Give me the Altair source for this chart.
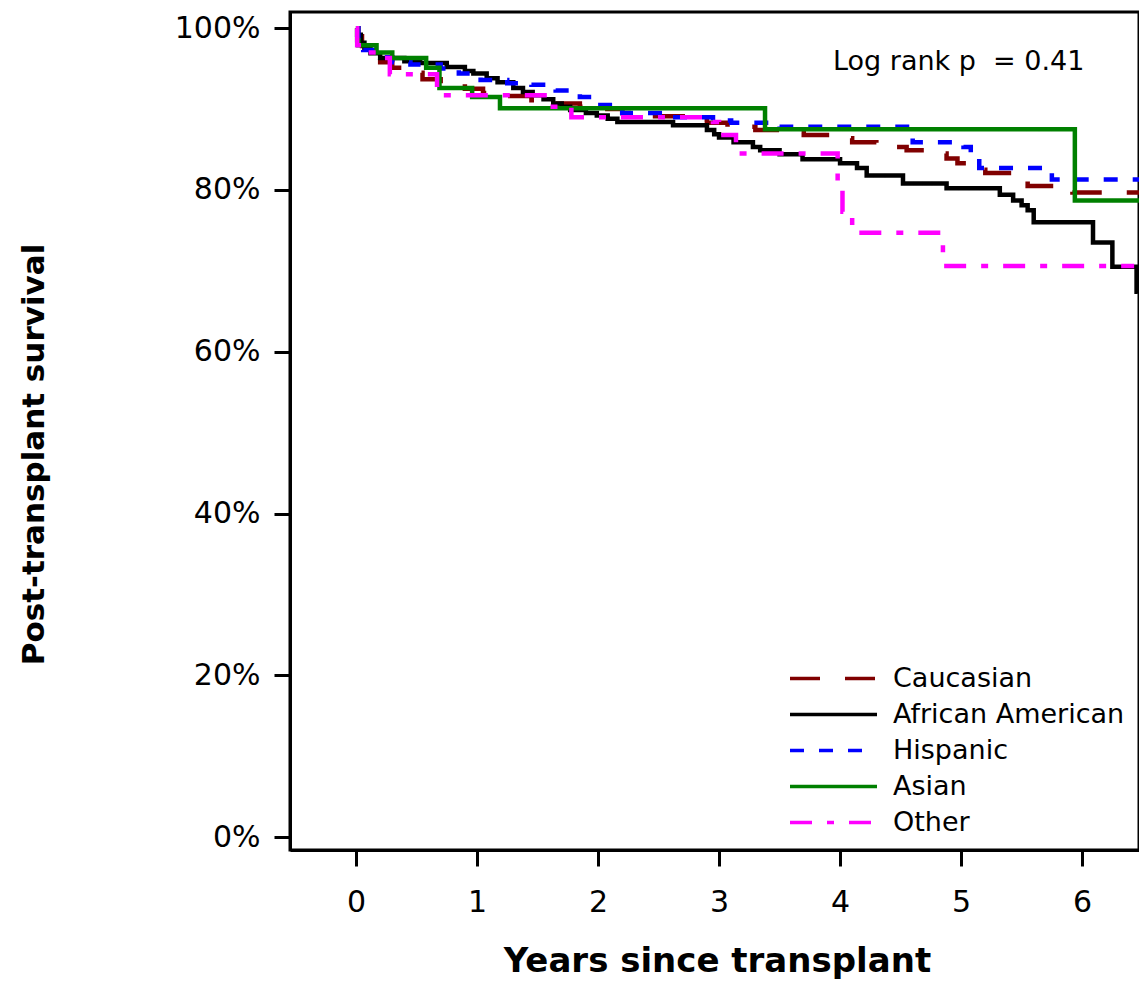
import altair as alt
import pandas as pd

# ---------------- data ----------------
groups = ["Caucasian", "African American", "Hispanic", "Asian", "Other"]
colors = ["#800000", "#000000", "#0000FF", "#008000", "#FF00FF"]
dashes = [[30, 25], [1, 0], [14, 15], [1, 0], [22, 15, 7, 15]]

cau_t = [0, 0.02, 0.05, 0.1, 0.2, 0.3, 0.4, 0.55, 0.7, 0.9, 1.05, 1.25, 1.45, 1.65,
         1.85, 2.0, 2.2, 2.45, 2.7, 2.9, 3.07, 3.3, 3.5, 3.7, 3.94, 4.1, 4.3, 4.55,
         4.8, 4.88, 4.97, 5.1, 5.2, 5.45, 5.55, 5.92, 6.55]
cau_s = [100, 99.0, 97.8, 96.8, 95.8, 95.1, 94.5, 93.7, 93.2, 92.5, 92.0, 91.6, 91.1, 90.7,
         90.3, 90.0, 89.5, 89.1, 88.7, 88.3, 87.8, 87.4, 87.1, 86.8, 86.4, 85.9, 85.3, 84.9,
         84.5, 83.9, 83.3, 82.5, 82.1, 81.3, 80.5, 79.7, 79.7]

aa_t = [0, 0.01, 0.04, 0.07, 0.12, 0.2, 0.4, 0.53, 0.75, 0.9, 0.97, 1.08, 1.17, 1.3,
        1.38, 1.46, 1.55, 1.63, 1.7, 1.77, 1.9, 1.99, 2.08, 2.16, 2.62, 2.9, 2.96, 3.0,
        3.12, 3.28, 3.34, 3.5, 3.69, 4.0, 4.14, 4.22, 4.52, 4.88, 5.32, 5.43, 5.5, 5.55,
        5.6, 6.09, 6.25, 6.45, 6.55]
aa_s = [100, 99.2, 98.2, 97.5, 96.9, 96.3, 95.9, 95.7, 95.2, 94.7, 94.4, 93.8, 93.3, 92.6,
        92.1, 91.7, 91.2, 90.7, 90.3, 89.9, 89.5, 89.2, 88.8, 88.4, 88.0, 87.4, 86.9, 86.5,
        85.9, 85.3, 84.9, 84.4, 83.8, 83.3, 82.7, 81.8, 80.8, 80.2, 79.4, 78.7, 78.1, 77.5,
        76.0, 73.5, 70.5, 67.4, 67.4]

his_t = [0, 0.02, 0.06, 0.15, 0.3, 0.45, 0.7, 0.85, 1.03, 1.25, 1.45, 1.65, 1.85, 1.98,
         2.2, 2.6, 2.95, 3.1, 3.5, 4.6, 5.02, 5.08, 5.15, 5.75, 6.55]
his_s = [100, 98.5, 97.3, 96.4, 95.8, 95.5, 95.0, 94.4, 93.6, 93.2, 93.0, 92.3, 91.5, 90.5,
         89.5, 89.0, 88.6, 88.3, 87.8, 85.9, 85.3, 84.5, 82.7, 81.3, 81.3]

asi_t = [0, 0.01, 0.02, 0.17, 0.3, 0.58, 0.69, 0.96, 1.19, 3.38, 5.94, 6.55]
asi_s = [100, 98.5, 97.9, 97.0, 96.3, 95.1, 92.6, 91.5, 90.1, 87.5, 78.7, 78.7]

oth_t = [0, 0.01, 0.1, 0.23, 0.28, 0.67, 0.72, 1.6, 1.78, 2.95, 3.0, 3.14, 3.98, 4.02,
         4.1, 4.85, 6.43]
oth_s = [100, 97.9, 97.0, 96.3, 94.3, 92.7, 91.7, 90.3, 89.0, 88.4, 86.8, 84.5, 80.3, 77.3,
         74.7, 70.6, 70.6]

x_ticks = [0, 1, 2, 3, 4, 5, 6]
y_ticks = [0, 20, 40, 60, 80, 100]

annot_text = ["Log rank p\u00a0 = 0.41"]
annot_t = [4.98]
annot_s = [94.8]

# ---------------- build table ----------------
series = [(cau_t, cau_s), (aa_t, aa_s), (his_t, his_s), (asi_t, asi_s), (oth_t, oth_s)]
rows = []
for g, (ts, ss) in zip(groups, series):
    for t, s in zip(ts, ss):
        rows.append({"group": g, "t": t, "s": s})
df = pd.DataFrame(rows)

FONT = "DejaVu Sans"

leg = alt.Legend(
    orient="none", legendX=527, legendY=650, title=None,
    symbolType="M-3,0H3", symbolSize=841, symbolStrokeWidth=3.5,
    symbolFillColor="transparent",
    labelFontSize=27, labelFont=FONT, labelColor="black", labelOffset=43,
    rowPadding=6, padding=0, labelLimit=500,
)

x_enc = alt.X(
    "t:Q",
    scale=alt.Scale(domain=[-0.545, 6.47], nice=False, zero=False),
    axis=alt.Axis(values=x_ticks, format="d", title="Years since transplant", labelPadding=21,
                  titleX=427, titleY=121, titleBaseline="alphabetic", titleAlign="center"),
)
y_enc = alt.Y(
    "s:Q",
    scale=alt.Scale(domain=[-1.6, 102], nice=False, zero=False),
    axis=alt.Axis(values=y_ticks, title="Post-transplant survival", labelPadding=14,
                  labelExpr="datum.value + '%'", titleFontSize=31,
                  titleX=-247, titleY=442, titleBaseline="alphabetic", titleAlign="center"),
)

lines = alt.Chart(df).mark_line(interpolate="step-after", strokeWidth=4.5, clip=True).encode(
    x=x_enc,
    y=y_enc,
    color=alt.Color("group:N", scale=alt.Scale(domain=groups, range=colors), legend=leg),
    strokeDash=alt.StrokeDash("group:N", scale=alt.Scale(domain=groups, range=dashes), legend=leg),
)

annot_df = pd.DataFrame({"t": annot_t, "s": annot_s, "label": annot_text})
annot = alt.Chart(annot_df).mark_text(
    font=FONT, fontSize=27, color="black", align="center", baseline="alphabetic"
).encode(x="t:Q", y="s:Q", text="label:N")

chart = alt.layer(lines, annot).properties(
    width=849, height=838,
    autosize=alt.AutoSizeParams(type="none"),
    padding={"left": 282, "top": 4, "right": 0, "bottom": 132},
).configure_view(
    stroke="black", strokeWidth=3
).configure_axis(
    grid=False, domainColor="black", domainWidth=3, tickColor="black", tickWidth=3,
    tickSize=16, labelFont=FONT, labelFontSize=30, labelColor="black",
    titleFont=FONT, titleFontSize=34, titleFontWeight="bold", titleColor="black",
)

chart.save("out.html", embed_options={"renderer": "svg", "actions": False})
